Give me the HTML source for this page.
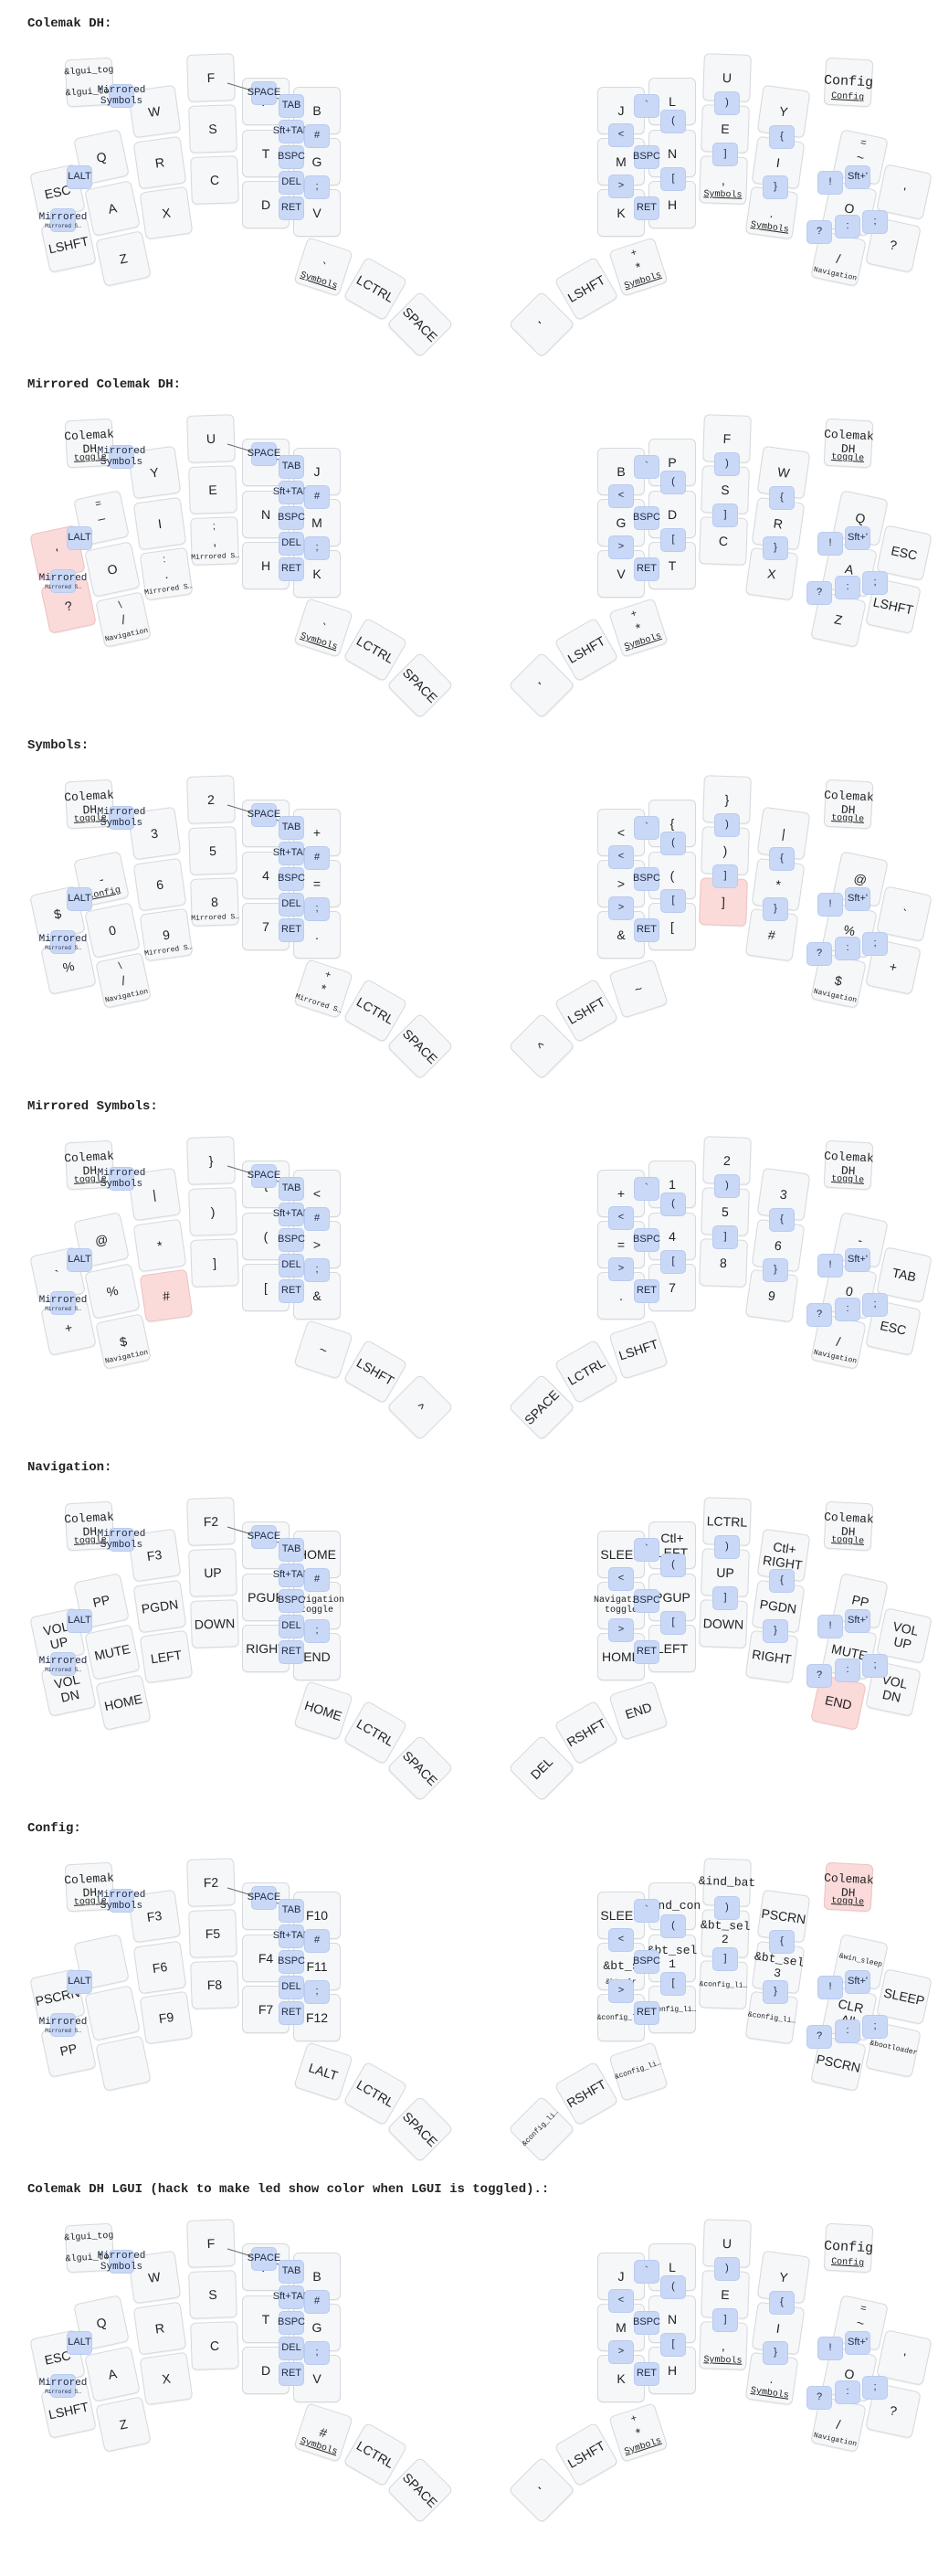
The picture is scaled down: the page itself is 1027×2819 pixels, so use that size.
<!DOCTYPE html>
<html><head><meta charset="utf-8">
<style>
html,body{margin:0;padding:0;background:#fff;}
body{width:1027px;height:2819px;position:relative;overflow:hidden;font-family:"Liberation Sans","DejaVu Sans",sans-serif;}
.L{position:absolute;left:0;width:1027px;height:395px;}
.ti{position:absolute;left:30px;top:18px;font:bold 14px "Liberation Mono",monospace;color:#222;white-space:nowrap;}
.k{position:absolute;width:52px;height:52px;box-sizing:border-box;background:#f6f7f8;border:1px solid #d6d9de;border-radius:6px;box-shadow:0 1px 1px rgba(0,0,0,.06);display:flex;align-items:center;justify-content:center;text-align:center;font-size:14px;color:#222;line-height:1.15;}
.k.red{background:#fbdada;border-color:#efc2c2;}
.k .s{position:absolute;top:3px;left:0;right:0;font-size:11px;}
.k .h{position:absolute;bottom:3px;left:-6px;right:-6px;font:10px "Liberation Mono",monospace;text-decoration:underline;white-space:nowrap;overflow:hidden;}
.k .hs{font-size:8px;text-decoration:none;}
.k .m{font-family:"Liberation Mono",monospace;font-size:13px;}
.k .sm{font-family:"Liberation Mono",monospace;font-size:10px;}
.a{left:72px;top:64px;transform:rotate(-3deg)}
.b{left:143px;top:96px;transform:rotate(-8deg)}
.c{left:149px;top:152px;transform:rotate(-8deg)}
.d{left:156px;top:207px;transform:rotate(-8deg)}
.e{left:205px;top:59px;transform:rotate(-2deg)}
.f{left:207px;top:115px;transform:rotate(-2deg)}
.g{left:209px;top:171px;transform:rotate(-2deg)}
.h_{left:265px;top:85px}
.i{left:265px;top:142px}
.j{left:265px;top:198px}
.kk{left:321px;top:95px}
.l{left:321px;top:151px}
.mm{left:321px;top:207px}
.n{left:85px;top:146px;transform:rotate(-12deg)}
.o{left:97px;top:202px;transform:rotate(-12deg)}
.p{left:109px;top:257px;transform:rotate(-12deg)}
.q{left:37px;top:184px;transform:rotate(-12deg)}
.r{left:49px;top:242px;transform:rotate(-12deg)}
.ts{left:328px;top:266px;transform:rotate(18deg)}
.tt{left:385px;top:290px;transform:rotate(30deg)}
.tu{left:434px;top:329px;transform:rotate(45deg)}
.ra{left:903px;top:64px;transform:rotate(3deg)}
.rb{left:832px;top:96px;transform:rotate(8deg)}
.rc{left:826px;top:152px;transform:rotate(8deg)}
.rd{left:819px;top:207px;transform:rotate(8deg)}
.re{left:770px;top:59px;transform:rotate(2deg)}
.rf{left:768px;top:115px;transform:rotate(2deg)}
.rg{left:766px;top:171px;transform:rotate(2deg)}
.rh{left:710px;top:85px}
.ri{left:710px;top:142px}
.rj{left:710px;top:198px}
.rk{left:654px;top:95px}
.rl{left:654px;top:151px}
.rm{left:654px;top:207px}
.rn{left:916px;top:146px;transform:rotate(12deg)}
.ro{left:904px;top:202px;transform:rotate(12deg)}
.rp{left:892px;top:257px;transform:rotate(12deg)}
.rq{left:964px;top:184px;transform:rotate(12deg)}
.rr{left:952px;top:242px;transform:rotate(12deg)}
.rs{left:673px;top:266px;transform:rotate(-18deg)}
.rt{left:616px;top:290px;transform:rotate(-30deg)}
.ru{left:567px;top:329px;transform:rotate(-45deg)}
.cb{position:absolute;width:28px;height:26px;box-sizing:border-box;background:#c9d8f6;border:1px solid #b9cbef;border-radius:5px;display:flex;flex-direction:column;align-items:center;justify-content:center;font-size:11px;color:#1e2a44;white-space:nowrap;line-height:1.05;}
.cb .mo{font:11px "Liberation Mono",monospace;}
.cb .tn{font:6px "Liberation Mono",monospace;}
.ln{position:absolute;left:0;top:0;}
</style></head><body>

<!-- LAYER 1 -->
<div class="L" style="top:0px">
<div class="ti">Colemak DH:</div>
<div class="k a"><span class="sm">&amp;lgui_tog<br><br>&amp;lgui_tog</span></div>
<div class="k b">W</div><div class="k c">R</div><div class="k d">X</div>
<div class="k e">F</div><div class="k f">S</div><div class="k g">C</div>
<div class="k h_">P</div><div class="k i">T</div><div class="k j">D</div>
<div class="k kk">B</div><div class="k l">G</div><div class="k mm">V</div>
<div class="k n">Q</div><div class="k o">A</div><div class="k p">Z</div>
<div class="k q">ESC</div><div class="k r">LSHFT</div>
<div class="k ts">`<span class="h">Symbols</span></div><div class="k tt">LCTRL</div><div class="k tu">SPACE</div>
<div class="k ra"><span class="m" style="font-size:15px">Config</span><span class="h">Config</span></div>
<div class="k rb">Y</div><div class="k rc">I</div><div class="k rd">.<span class="h">Symbols</span></div>
<div class="k re">U</div><div class="k rf">E</div><div class="k rg">,<span class="h">Symbols</span></div>
<div class="k rh">L</div><div class="k ri">N</div><div class="k rj">H</div>
<div class="k rk">J</div><div class="k rl">M</div><div class="k rm">K</div>
<div class="k rn"><span class="s">=</span>~</div><div class="k ro">O</div><div class="k rp">/<span class="h hs">Navigation</span></div>
<div class="k rq">'</div><div class="k rr">?</div>
<div class="k rs"><span class="s">+</span>*<span class="h">Symbols</span></div><div class="k rt">LSHFT</div><div class="k ru">'</div>
<svg class="ln" width="1027" height="395"><line x1="249" y1="91" x2="305" y2="108" stroke="#666" stroke-width="1"/></svg>
<div class="cb" style="left:275px;top:89px">SPACE</div><div class="cb" style="left:305px;top:103px">TAB</div><div class="cb" style="left:305px;top:131px">Sft+TAB</div><div class="cb" style="left:333px;top:136px">#</div><div class="cb" style="left:305px;top:159px">BSPC</div><div class="cb" style="left:305px;top:187px">DEL</div><div class="cb" style="left:333px;top:192px">;</div><div class="cb" style="left:305px;top:215px">RET</div><div class="cb" style="left:73px;top:181px">LALT</div><div class="cb" style="left:55px;top:228px"><span class="mo">Mirrored</span><span class="tn">Mirrored S…</span></div><div class="cb" style="left:119px;top:92px"><span class="mo">Mirrored</span><span class="mo">Symbols</span></div>
<div class="cb" style="left:694px;top:103px">`</div><div class="cb" style="left:666px;top:135px">&lt;</div><div class="cb" style="left:723px;top:120px">(</div><div class="cb" style="left:694px;top:159px">BSPC</div><div class="cb" style="left:723px;top:183px">[</div><div class="cb" style="left:666px;top:191px">&gt;</div><div class="cb" style="left:694px;top:215px">RET</div><div class="cb" style="left:782px;top:100px">)</div><div class="cb" style="left:780px;top:156px">]</div><div class="cb" style="left:842px;top:137px">{</div><div class="cb" style="left:835px;top:192px">}</div><div class="cb" style="left:895px;top:187px">!</div><div class="cb" style="left:925px;top:181px">Sft+'</div><div class="cb" style="left:883px;top:241px">?</div><div class="cb" style="left:914px;top:235px">:</div><div class="cb" style="left:944px;top:230px">;</div>
</div>

<!-- LAYER 2 -->
<div class="L" style="top:395px">
<div class="ti">Mirrored Colemak DH:</div>
<div class="k a"><span class="m">Colemak<br>DH</span><span class="h">toggle</span></div>
<div class="k b">Y</div><div class="k c">I</div><div class="k d"><span class="s">:</span>.<span class="h hs">Mirrored S…</span></div>
<div class="k e">U</div><div class="k f">E</div><div class="k g"><span class="s">;</span>,<span class="h hs">Mirrored S…</span></div>
<div class="k h_"></div><div class="k i">N</div><div class="k j">H</div>
<div class="k kk">J</div><div class="k l">M</div><div class="k mm">K</div>
<div class="k n"><span class="s">=</span>–</div><div class="k o">O</div><div class="k p"><span class="s">\</span>/<span class="h hs">Navigation</span></div>
<div class="k q red">'</div><div class="k r red">?</div>
<div class="k ts">`<span class="h">Symbols</span></div><div class="k tt">LCTRL</div><div class="k tu">SPACE</div>
<div class="k ra"><span class="m">Colemak<br>DH</span><span class="h">toggle</span></div>
<div class="k rb">W</div><div class="k rc">R</div><div class="k rd">X</div>
<div class="k re">F</div><div class="k rf">S</div><div class="k rg">C</div>
<div class="k rh">P</div><div class="k ri">D</div><div class="k rj">T</div>
<div class="k rk">B</div><div class="k rl">G</div><div class="k rm">V</div>
<div class="k rn">Q</div><div class="k ro">A</div><div class="k rp">Z</div>
<div class="k rq">ESC</div><div class="k rr">LSHFT</div>
<div class="k rs"><span class="s">+</span>*<span class="h">Symbols</span></div><div class="k rt">LSHFT</div><div class="k ru">'</div>
<svg class="ln" width="1027" height="395"><line x1="249" y1="91" x2="305" y2="108" stroke="#666" stroke-width="1"/></svg>
<div class="cb" style="left:275px;top:89px">SPACE</div><div class="cb" style="left:305px;top:103px">TAB</div><div class="cb" style="left:305px;top:131px">Sft+TAB</div><div class="cb" style="left:333px;top:136px">#</div><div class="cb" style="left:305px;top:159px">BSPC</div><div class="cb" style="left:305px;top:187px">DEL</div><div class="cb" style="left:333px;top:192px">;</div><div class="cb" style="left:305px;top:215px">RET</div><div class="cb" style="left:73px;top:181px">LALT</div><div class="cb" style="left:55px;top:228px"><span class="mo">Mirrored</span><span class="tn">Mirrored S…</span></div><div class="cb" style="left:119px;top:92px"><span class="mo">Mirrored</span><span class="mo">Symbols</span></div>
<div class="cb" style="left:694px;top:103px">`</div><div class="cb" style="left:666px;top:135px">&lt;</div><div class="cb" style="left:723px;top:120px">(</div><div class="cb" style="left:694px;top:159px">BSPC</div><div class="cb" style="left:723px;top:183px">[</div><div class="cb" style="left:666px;top:191px">&gt;</div><div class="cb" style="left:694px;top:215px">RET</div><div class="cb" style="left:782px;top:100px">)</div><div class="cb" style="left:780px;top:156px">]</div><div class="cb" style="left:842px;top:137px">{</div><div class="cb" style="left:835px;top:192px">}</div><div class="cb" style="left:895px;top:187px">!</div><div class="cb" style="left:925px;top:181px">Sft+'</div><div class="cb" style="left:883px;top:241px">?</div><div class="cb" style="left:914px;top:235px">:</div><div class="cb" style="left:944px;top:230px">;</div>
</div>

<!-- LAYER 3 -->
<div class="L" style="top:790px">
<div class="ti">Symbols:</div>
<div class="k a"><span class="m">Colemak<br>DH</span><span class="h">toggle</span></div>
<div class="k b">3</div><div class="k c">6</div><div class="k d">9<span class="h hs">Mirrored S…</span></div>
<div class="k e">2</div><div class="k f">5</div><div class="k g">8<span class="h hs">Mirrored S…</span></div>
<div class="k h_"></div><div class="k i">4</div><div class="k j">7</div>
<div class="k kk">+</div><div class="k l">=</div><div class="k mm">.</div>
<div class="k n">-<span class="h">Config</span></div><div class="k o">0</div><div class="k p"><span class="s">\</span>/<span class="h hs">Navigation</span></div>
<div class="k q">$</div><div class="k r">%</div>
<div class="k ts"><span class="s">+</span>*<span class="h hs">Mirrored S…</span></div><div class="k tt">LCTRL</div><div class="k tu">SPACE</div>
<div class="k ra"><span class="m">Colemak<br>DH</span><span class="h">toggle</span></div>
<div class="k rb">|</div><div class="k rc">*</div><div class="k rd">#</div>
<div class="k re">}</div><div class="k rf">)</div><div class="k rg red">]</div>
<div class="k rh">{</div><div class="k ri">(</div><div class="k rj">[</div>
<div class="k rk">&lt;</div><div class="k rl">&gt;</div><div class="k rm">&amp;</div>
<div class="k rn">@</div><div class="k ro">%</div><div class="k rp">$<span class="h hs">Navigation</span></div>
<div class="k rq">`</div><div class="k rr">+</div>
<div class="k rs">~</div><div class="k rt">LSHFT</div><div class="k ru">^</div>
<svg class="ln" width="1027" height="395"><line x1="249" y1="91" x2="305" y2="108" stroke="#666" stroke-width="1"/></svg>
<div class="cb" style="left:275px;top:89px">SPACE</div><div class="cb" style="left:305px;top:103px">TAB</div><div class="cb" style="left:305px;top:131px">Sft+TAB</div><div class="cb" style="left:333px;top:136px">#</div><div class="cb" style="left:305px;top:159px">BSPC</div><div class="cb" style="left:305px;top:187px">DEL</div><div class="cb" style="left:333px;top:192px">;</div><div class="cb" style="left:305px;top:215px">RET</div><div class="cb" style="left:73px;top:181px">LALT</div><div class="cb" style="left:55px;top:228px"><span class="mo">Mirrored</span><span class="tn">Mirrored S…</span></div><div class="cb" style="left:119px;top:92px"><span class="mo">Mirrored</span><span class="mo">Symbols</span></div>
<div class="cb" style="left:694px;top:103px">`</div><div class="cb" style="left:666px;top:135px">&lt;</div><div class="cb" style="left:723px;top:120px">(</div><div class="cb" style="left:694px;top:159px">BSPC</div><div class="cb" style="left:723px;top:183px">[</div><div class="cb" style="left:666px;top:191px">&gt;</div><div class="cb" style="left:694px;top:215px">RET</div><div class="cb" style="left:782px;top:100px">)</div><div class="cb" style="left:780px;top:156px">]</div><div class="cb" style="left:842px;top:137px">{</div><div class="cb" style="left:835px;top:192px">}</div><div class="cb" style="left:895px;top:187px">!</div><div class="cb" style="left:925px;top:181px">Sft+'</div><div class="cb" style="left:883px;top:241px">?</div><div class="cb" style="left:914px;top:235px">:</div><div class="cb" style="left:944px;top:230px">;</div>
</div>

<!-- LAYER 4 -->
<div class="L" style="top:1185px">
<div class="ti">Mirrored Symbols:</div>
<div class="k a"><span class="m">Colemak<br>DH</span><span class="h">toggle</span></div>
<div class="k b">|</div><div class="k c">*</div><div class="k d red">#</div>
<div class="k e">}</div><div class="k f">)</div><div class="k g">]</div>
<div class="k h_">{</div><div class="k i">(</div><div class="k j">[</div>
<div class="k kk">&lt;</div><div class="k l">&gt;</div><div class="k mm">&amp;</div>
<div class="k n">@</div><div class="k o">%</div><div class="k p">$<span class="h hs">Navigation</span></div>
<div class="k q">`</div><div class="k r">+</div>
<div class="k ts">~</div><div class="k tt">LSHFT</div><div class="k tu">^</div>
<div class="k ra"><span class="m">Colemak<br>DH</span><span class="h">toggle</span></div>
<div class="k rb">3</div><div class="k rc">6</div><div class="k rd">9</div>
<div class="k re">2</div><div class="k rf">5</div><div class="k rg">8</div>
<div class="k rh">1</div><div class="k ri">4</div><div class="k rj">7</div>
<div class="k rk">+</div><div class="k rl">=</div><div class="k rm">.</div>
<div class="k rn">-</div><div class="k ro">0</div><div class="k rp">/<span class="h hs">Navigation</span></div>
<div class="k rq">TAB</div><div class="k rr">ESC</div>
<div class="k rs">LSHFT</div><div class="k rt">LCTRL</div><div class="k ru">SPACE</div>
<svg class="ln" width="1027" height="395"><line x1="249" y1="91" x2="305" y2="108" stroke="#666" stroke-width="1"/></svg>
<div class="cb" style="left:275px;top:89px">SPACE</div><div class="cb" style="left:305px;top:103px">TAB</div><div class="cb" style="left:305px;top:131px">Sft+TAB</div><div class="cb" style="left:333px;top:136px">#</div><div class="cb" style="left:305px;top:159px">BSPC</div><div class="cb" style="left:305px;top:187px">DEL</div><div class="cb" style="left:333px;top:192px">;</div><div class="cb" style="left:305px;top:215px">RET</div><div class="cb" style="left:73px;top:181px">LALT</div><div class="cb" style="left:55px;top:228px"><span class="mo">Mirrored</span><span class="tn">Mirrored S…</span></div><div class="cb" style="left:119px;top:92px"><span class="mo">Mirrored</span><span class="mo">Symbols</span></div>
<div class="cb" style="left:694px;top:103px">`</div><div class="cb" style="left:666px;top:135px">&lt;</div><div class="cb" style="left:723px;top:120px">(</div><div class="cb" style="left:694px;top:159px">BSPC</div><div class="cb" style="left:723px;top:183px">[</div><div class="cb" style="left:666px;top:191px">&gt;</div><div class="cb" style="left:694px;top:215px">RET</div><div class="cb" style="left:782px;top:100px">)</div><div class="cb" style="left:780px;top:156px">]</div><div class="cb" style="left:842px;top:137px">{</div><div class="cb" style="left:835px;top:192px">}</div><div class="cb" style="left:895px;top:187px">!</div><div class="cb" style="left:925px;top:181px">Sft+'</div><div class="cb" style="left:883px;top:241px">?</div><div class="cb" style="left:914px;top:235px">:</div><div class="cb" style="left:944px;top:230px">;</div>
</div>

<!-- LAYER 5 -->
<div class="L" style="top:1580px">
<div class="ti">Navigation:</div>
<div class="k a"><span class="m">Colemak<br>DH</span><span class="h">toggle</span></div>
<div class="k b">F3</div><div class="k c">PGDN</div><div class="k d">LEFT</div>
<div class="k e">F2</div><div class="k f">UP</div><div class="k g">DOWN</div>
<div class="k h_"></div><div class="k i">PGUP</div><div class="k j">RIGHT</div>
<div class="k kk">HOME</div><div class="k l"><span class="sm">Navigation<br>toggle</span></div><div class="k mm">END</div>
<div class="k n">PP</div><div class="k o">MUTE</div><div class="k p">HOME</div>
<div class="k q">VOL<br>UP</div><div class="k r">VOL<br>DN</div>
<div class="k ts">HOME</div><div class="k tt">LCTRL</div><div class="k tu">SPACE</div>
<div class="k ra"><span class="m">Colemak<br>DH</span><span class="h">toggle</span></div>
<div class="k rb">Ctl+<br>RIGHT</div><div class="k rc">PGDN</div><div class="k rd">RIGHT</div>
<div class="k re">LCTRL</div><div class="k rf">UP</div><div class="k rg">DOWN</div>
<div class="k rh">Ctl+<br>LEFT</div><div class="k ri">PGUP</div><div class="k rj">LEFT</div>
<div class="k rk">SLEEP</div><div class="k rl"><span class="sm">Navigation<br>toggle</span></div><div class="k rm">HOME</div>
<div class="k rn">PP</div><div class="k ro">MUTE</div><div class="k rp red">END</div>
<div class="k rq">VOL<br>UP</div><div class="k rr">VOL<br>DN</div>
<div class="k rs">END</div><div class="k rt">RSHFT</div><div class="k ru">DEL</div>
<svg class="ln" width="1027" height="395"><line x1="249" y1="91" x2="305" y2="108" stroke="#666" stroke-width="1"/></svg>
<div class="cb" style="left:275px;top:89px">SPACE</div><div class="cb" style="left:305px;top:103px">TAB</div><div class="cb" style="left:305px;top:131px">Sft+TAB</div><div class="cb" style="left:333px;top:136px">#</div><div class="cb" style="left:305px;top:159px">BSPC</div><div class="cb" style="left:305px;top:187px">DEL</div><div class="cb" style="left:333px;top:192px">;</div><div class="cb" style="left:305px;top:215px">RET</div><div class="cb" style="left:73px;top:181px">LALT</div><div class="cb" style="left:55px;top:228px"><span class="mo">Mirrored</span><span class="tn">Mirrored S…</span></div><div class="cb" style="left:119px;top:92px"><span class="mo">Mirrored</span><span class="mo">Symbols</span></div>
<div class="cb" style="left:694px;top:103px">`</div><div class="cb" style="left:666px;top:135px">&lt;</div><div class="cb" style="left:723px;top:120px">(</div><div class="cb" style="left:694px;top:159px">BSPC</div><div class="cb" style="left:723px;top:183px">[</div><div class="cb" style="left:666px;top:191px">&gt;</div><div class="cb" style="left:694px;top:215px">RET</div><div class="cb" style="left:782px;top:100px">)</div><div class="cb" style="left:780px;top:156px">]</div><div class="cb" style="left:842px;top:137px">{</div><div class="cb" style="left:835px;top:192px">}</div><div class="cb" style="left:895px;top:187px">!</div><div class="cb" style="left:925px;top:181px">Sft+'</div><div class="cb" style="left:883px;top:241px">?</div><div class="cb" style="left:914px;top:235px">:</div><div class="cb" style="left:944px;top:230px">;</div>
</div>

<!-- LAYER 6 -->
<div class="L" style="top:1975px">
<div class="ti">Config:</div>
<div class="k a"><span class="m">Colemak<br>DH</span><span class="h">toggle</span></div>
<div class="k b">F3</div><div class="k c">F6</div><div class="k d">F9</div>
<div class="k e">F2</div><div class="k f">F5</div><div class="k g">F8</div>
<div class="k h_"></div><div class="k i">F4</div><div class="k j">F7</div>
<div class="k kk">F10</div><div class="k l">F11</div><div class="k mm">F12</div>
<div class="k n"></div><div class="k o"></div><div class="k p"></div>
<div class="k q">PSCRN</div><div class="k r">PP</div>
<div class="k ts">LALT</div><div class="k tt">LCTRL</div><div class="k tu">SPACE</div>
<div class="k ra red"><span class="m">Colemak<br>DH</span><span class="h">toggle</span></div>
<div class="k rb">PSCRN</div><div class="k rc"><span class="m">&amp;bt_sel<br>3</span></div><div class="k rd"><span class="h hs" style="bottom:20px">&amp;config_li…</span></div>
<div class="k re"><span class="m">&amp;ind_bat</span></div><div class="k rf"><span class="m">&amp;bt_sel<br>2</span></div><div class="k rg"><span class="h hs" style="bottom:20px">&amp;config_li…</span></div>
<div class="k rh"><span class="m">&amp;ind_con</span></div><div class="k ri"><span class="m">&amp;bt_sel<br>1</span></div><div class="k rj"><span class="h hs" style="bottom:20px">&amp;config_li…</span></div>
<div class="k rk">SLEEP</div><div class="k rl"><span class="m">&amp;bt_s</span><span class="h hs">&amp;bt_clr</span></div><div class="k rm"><span class="h hs" style="bottom:20px">&amp;config_li…</span></div>
<div class="k rn"><span class="h hs" style="bottom:22px">&amp;win_sleep</span></div><div class="k ro">CLR<br>All</div><div class="k rp">PSCRN</div>
<div class="k rq">SLEEP</div><div class="k rr"><span class="h hs" style="bottom:22px">&amp;bootloader</span></div>
<div class="k rs"><span class="h hs" style="bottom:22px">&amp;config_li…</span></div><div class="k rt">RSHFT</div><div class="k ru"><span class="h hs" style="bottom:22px">&amp;config_li…</span></div>
<svg class="ln" width="1027" height="395"><line x1="249" y1="91" x2="305" y2="108" stroke="#666" stroke-width="1"/></svg>
<div class="cb" style="left:275px;top:89px">SPACE</div><div class="cb" style="left:305px;top:103px">TAB</div><div class="cb" style="left:305px;top:131px">Sft+TAB</div><div class="cb" style="left:333px;top:136px">#</div><div class="cb" style="left:305px;top:159px">BSPC</div><div class="cb" style="left:305px;top:187px">DEL</div><div class="cb" style="left:333px;top:192px">;</div><div class="cb" style="left:305px;top:215px">RET</div><div class="cb" style="left:73px;top:181px">LALT</div><div class="cb" style="left:55px;top:228px"><span class="mo">Mirrored</span><span class="tn">Mirrored S…</span></div><div class="cb" style="left:119px;top:92px"><span class="mo">Mirrored</span><span class="mo">Symbols</span></div>
<div class="cb" style="left:694px;top:103px">`</div><div class="cb" style="left:666px;top:135px">&lt;</div><div class="cb" style="left:723px;top:120px">(</div><div class="cb" style="left:694px;top:159px">BSPC</div><div class="cb" style="left:723px;top:183px">[</div><div class="cb" style="left:666px;top:191px">&gt;</div><div class="cb" style="left:694px;top:215px">RET</div><div class="cb" style="left:782px;top:100px">)</div><div class="cb" style="left:780px;top:156px">]</div><div class="cb" style="left:842px;top:137px">{</div><div class="cb" style="left:835px;top:192px">}</div><div class="cb" style="left:895px;top:187px">!</div><div class="cb" style="left:925px;top:181px">Sft+'</div><div class="cb" style="left:883px;top:241px">?</div><div class="cb" style="left:914px;top:235px">:</div><div class="cb" style="left:944px;top:230px">;</div>
</div>

<!-- LAYER 7 -->
<div class="L" style="top:2370px">
<div class="ti">Colemak DH LGUI (hack to make led show color when LGUI is toggled).:</div>
<div class="k a"><span class="sm">&amp;lgui_tog<br><br>&amp;lgui_tog</span></div>
<div class="k b">W</div><div class="k c">R</div><div class="k d">X</div>
<div class="k e">F</div><div class="k f">S</div><div class="k g">C</div>
<div class="k h_">P</div><div class="k i">T</div><div class="k j">D</div>
<div class="k kk">B</div><div class="k l">G</div><div class="k mm">V</div>
<div class="k n">Q</div><div class="k o">A</div><div class="k p">Z</div>
<div class="k q">ESC</div><div class="k r">LSHFT</div>
<div class="k ts">#<span class="h">Symbols</span></div><div class="k tt">LCTRL</div><div class="k tu">SPACE</div>
<div class="k ra"><span class="m" style="font-size:15px">Config</span><span class="h">Config</span></div>
<div class="k rb">Y</div><div class="k rc">I</div><div class="k rd">.<span class="h">Symbols</span></div>
<div class="k re">U</div><div class="k rf">E</div><div class="k rg">,<span class="h">Symbols</span></div>
<div class="k rh">L</div><div class="k ri">N</div><div class="k rj">H</div>
<div class="k rk">J</div><div class="k rl">M</div><div class="k rm">K</div>
<div class="k rn"><span class="s">=</span>~</div><div class="k ro">O</div><div class="k rp">/<span class="h hs">Navigation</span></div>
<div class="k rq">'</div><div class="k rr">?</div>
<div class="k rs"><span class="s">+</span>*<span class="h">Symbols</span></div><div class="k rt">LSHFT</div><div class="k ru">'</div>
<svg class="ln" width="1027" height="395"><line x1="249" y1="91" x2="305" y2="108" stroke="#666" stroke-width="1"/></svg>
<div class="cb" style="left:275px;top:89px">SPACE</div><div class="cb" style="left:305px;top:103px">TAB</div><div class="cb" style="left:305px;top:131px">Sft+TAB</div><div class="cb" style="left:333px;top:136px">#</div><div class="cb" style="left:305px;top:159px">BSPC</div><div class="cb" style="left:305px;top:187px">DEL</div><div class="cb" style="left:333px;top:192px">;</div><div class="cb" style="left:305px;top:215px">RET</div><div class="cb" style="left:73px;top:181px">LALT</div><div class="cb" style="left:55px;top:228px"><span class="mo">Mirrored</span><span class="tn">Mirrored S…</span></div><div class="cb" style="left:119px;top:92px"><span class="mo">Mirrored</span><span class="mo">Symbols</span></div>
<div class="cb" style="left:694px;top:103px">`</div><div class="cb" style="left:666px;top:135px">&lt;</div><div class="cb" style="left:723px;top:120px">(</div><div class="cb" style="left:694px;top:159px">BSPC</div><div class="cb" style="left:723px;top:183px">[</div><div class="cb" style="left:666px;top:191px">&gt;</div><div class="cb" style="left:694px;top:215px">RET</div><div class="cb" style="left:782px;top:100px">)</div><div class="cb" style="left:780px;top:156px">]</div><div class="cb" style="left:842px;top:137px">{</div><div class="cb" style="left:835px;top:192px">}</div><div class="cb" style="left:895px;top:187px">!</div><div class="cb" style="left:925px;top:181px">Sft+'</div><div class="cb" style="left:883px;top:241px">?</div><div class="cb" style="left:914px;top:235px">:</div><div class="cb" style="left:944px;top:230px">;</div>
</div>

</body></html>
